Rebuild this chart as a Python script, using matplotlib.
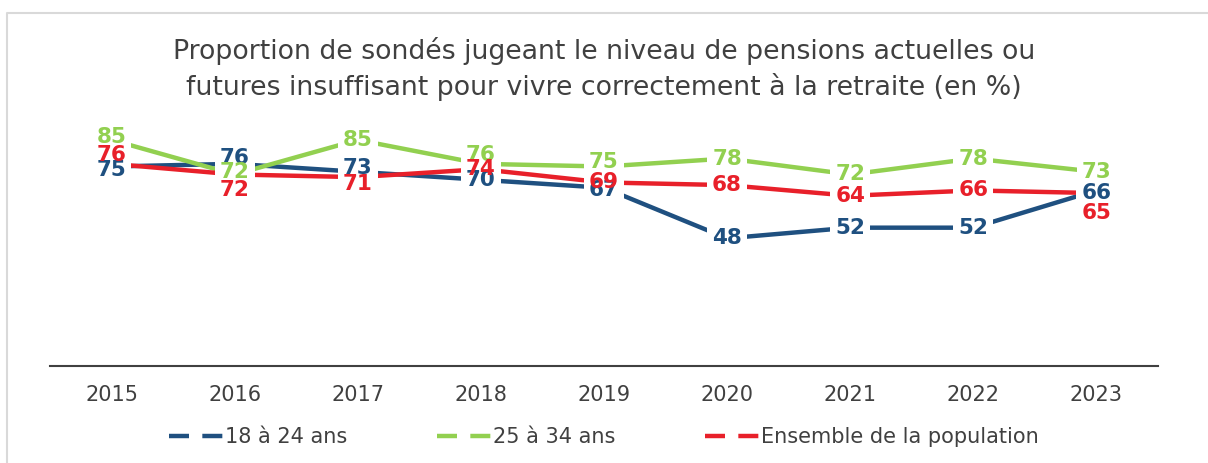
import numpy as np
import matplotlib.pyplot as plt
from matplotlib.lines import Line2D

years = ['2015', '2016', '2017', '2018', '2019', '2020', '2021', '2022', '2023']
jeunes_18_24 = [75, 76, 73, 70, 67, 48, 52, 52, 66]
jeunes_25_34 = [85, 72, 85, 76, 75, 78, 72, 78, 73]
ensemble = [76, 72, 71, 74, 69, 68, 64, 66, 65]

series = [
    ('18 à 24 ans', jeunes_18_24, '#1F5080'),
    ('25 à 34 ans', jeunes_25_34, '#92D050'),
    ('Ensemble de la population', ensemble, '#E8202A'),
]

# label nudges in pixels (up is positive), to mimic the manual placement
nudge = {
    ('18 à 24 ans', 0): -4, ('18 à 24 ans', 1): 6, ('18 à 24 ans', 2): 4,
    ('18 à 24 ans', 4): -2, ('18 à 24 ans', 8): -3,
    ('25 à 34 ans', 0): 3, ('25 à 34 ans', 1): 2, ('25 à 34 ans', 3): 9,
    ('25 à 34 ans', 4): 4,
    ('Ensemble de la population', 0): 9, ('Ensemble de la population', 1): -16,
    ('Ensemble de la population', 2): -7, ('Ensemble de la population', 8): -20,
}

plt.rcParams['font.family'] = ['DejaVu Sans']
grey = '#404040'

fig = plt.figure(figsize=(12.08, 4.63), dpi=100)
ax = fig.add_axes([50 / 1208, 1 - 366 / 463, 1108 / 1208, 266 / 463])

x = np.arange(len(years))
for name, vals, col in series:
    ax.plot(x, vals, color=col, linewidth=3.2, zorder=2)
for name, vals, col in series:
    for i, v in enumerate(vals):
        dy = nudge.get((name, i), 0) * 0.72
        # white box first to cut the lines, then the text on top of every box
        ax.annotate(str(v), (x[i], v), xytext=(0, dy), textcoords='offset points',
                    ha='center', va='center', fontsize=15.5, fontweight='bold', color='none',
                    bbox=dict(fc='white', ec='none', pad=3.5), zorder=3)
        ax.annotate(str(v), (x[i], v), xytext=(0, dy), textcoords='offset points',
                    ha='center', va='center', fontsize=15.5, fontweight='bold', color=col,
                    zorder=4)

ax.set_xlim(-0.5, len(years) - 0.5)
ax.set_ylim(0, 100)
ax.set_xticks(x)
ax.set_xticklabels(years, fontsize=15, color=grey)
ax.tick_params(axis='x', length=0, pad=14)
ax.set_yticks([])
for s in ['top', 'right', 'left']:
    ax.spines[s].set_visible(False)
ax.spines['bottom'].set_color(grey)
ax.spines['bottom'].set_linewidth(1.5)

fig.text(0.5, 1 - 69 / 463,
         'Proportion de sondés jugeant le niveau de pensions actuelles ou\n'
         'futures insuffisant pour vivre correctement à la retraite (en %)',
         ha='center', va='center', fontsize=19.3, color=grey, linespacing=1.4)

handles = [Line2D([], [], color=col, linewidth=3.2, linestyle=(0, (4.5, 3)))
           for _, _, col in series]
fig.legend(handles, [s[0] for s in series], loc='center', bbox_to_anchor=(0.5, 1 - 437 / 463),
           ncol=3, frameon=False, fontsize=15, handlelength=2.6, handletextpad=0.1,
           columnspacing=4.3, labelcolor=grey)

# chart frame
fig.add_artist(Line2D([7 / 1208, 7 / 1208, 1], [0, 1 - 13 / 463, 1 - 13 / 463],
                      transform=fig.transFigure, color='#D9D9D9', linewidth=1.5))

fig.savefig('out.png', dpi=100, facecolor='white')
